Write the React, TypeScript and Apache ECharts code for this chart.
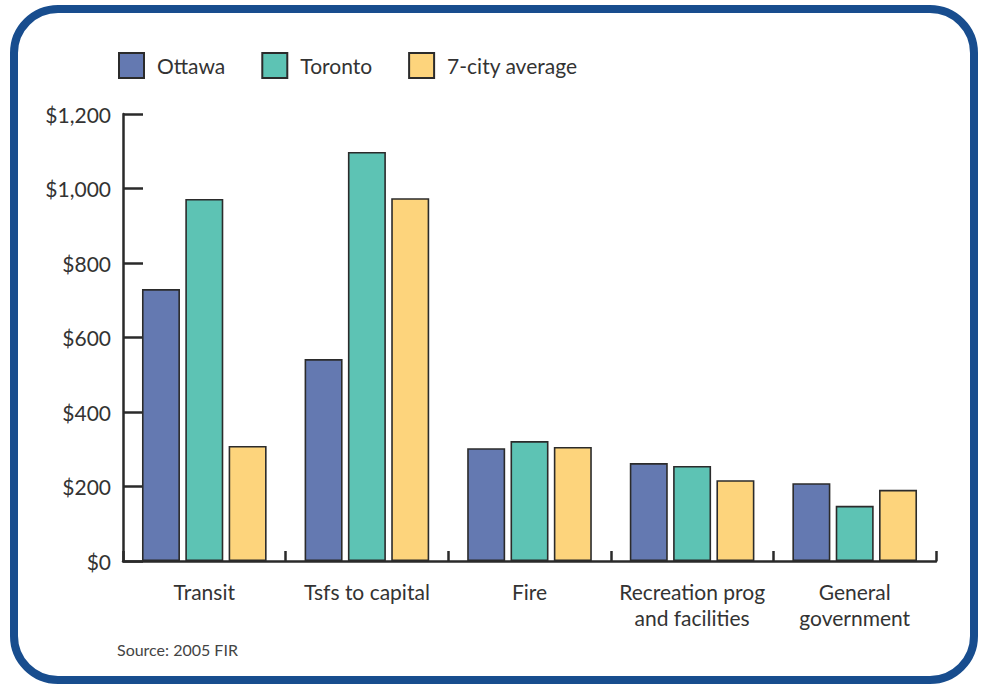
import React, { useEffect, useRef } from "react";
import * as echarts from "echarts";

const categories = ["Transit", "Tsfs to capital", "Fire", "Recreation prog\nand facilities", "General\ngovernment"];
const seriesNames = ["Ottawa", "Toronto", "7-city average"];
const ottawa = [730, 542, 303, 263, 209];
const toronto = [972, 1098, 322, 255, 148];
const cityAverage = [309, 974, 306, 217, 191];
const colors = ["#6479B1", "#5DC3B4", "#FDD47C"];
const sourceNote = "Source: 2005 FIR";

const FONT = "Lato, 'Open Sans', sans-serif";

export default function App() {
  const ref = useRef<HTMLDivElement>(null);

  useEffect(() => {
    if (!ref.current) return;
    const chart = echarts.init(ref.current, undefined, { renderer: "svg" });
    const values = [ottawa, toronto, cityAverage];
    chart.setOption({
      animation: false,
      backgroundColor: "#ffffff",
      textStyle: { fontFamily: FONT },
      legend: {
        left: 113,
        top: 47,
        icon: "rect",
        itemWidth: 25,
        itemHeight: 25,
        itemGap: 36,
        textStyle: { fontSize: 21, color: "#333", fontFamily: FONT, padding: [0, 0, 0, 8] },
        data: seriesNames,
      },
      grid: { left: 123, right: 46, top: 114, bottom: 124, containLabel: false },
      xAxis: {
        type: "category",
        data: categories,
        axisLine: { lineStyle: { color: "#2a2a2a", width: 2.5 } },
        axisTick: { show: true, inside: true, length: 10, lineStyle: { color: "#2a2a2a", width: 2.5 } },
        axisLabel: { fontSize: 21, color: "#333", margin: 17, lineHeight: 26, interval: 0, fontFamily: FONT },
      },
      yAxis: {
        type: "value",
        min: 0,
        max: 1200,
        interval: 200,
        axisLine: { show: true, lineStyle: { color: "#2a2a2a", width: 2.5 } },
        axisTick: { show: true, inside: true, length: 20, lineStyle: { color: "#2a2a2a", width: 2.5 } },
        splitLine: { show: false },
        axisLabel: {
          fontSize: 21,
          color: "#333",
          margin: 12,
          fontFamily: FONT,
          formatter: (v: number) => "$" + v.toLocaleString("en-US"),
        },
      },
      series: seriesNames.map((name, i) => ({
        name,
        type: "bar",
        data: values[i],
        barWidth: 38,
        barGap: "14%",
        itemStyle: { color: colors[i], borderColor: "#2b2b2b", borderWidth: 1.6 },
      })),
      graphic: [
        {
          type: "rect",
          shape: { x: 14, y: 9, width: 960, height: 671, r: 44 },
          style: { fill: "none", stroke: "#184D8E", lineWidth: 8 },
          silent: true,
        },
        {
          type: "text",
          left: 117,
          top: 641,
          style: { text: sourceNote, fontSize: 16, fill: "#444", fontFamily: FONT },
        },
      ],
    });
    return () => chart.dispose();
  }, []);

  return (
    <div style={{ position: "fixed", left: 0, top: 0, width: 982, height: 685 }}>
      <div ref={ref} style={{ width: 982, height: 685 }} />
    </div>
  );
}
